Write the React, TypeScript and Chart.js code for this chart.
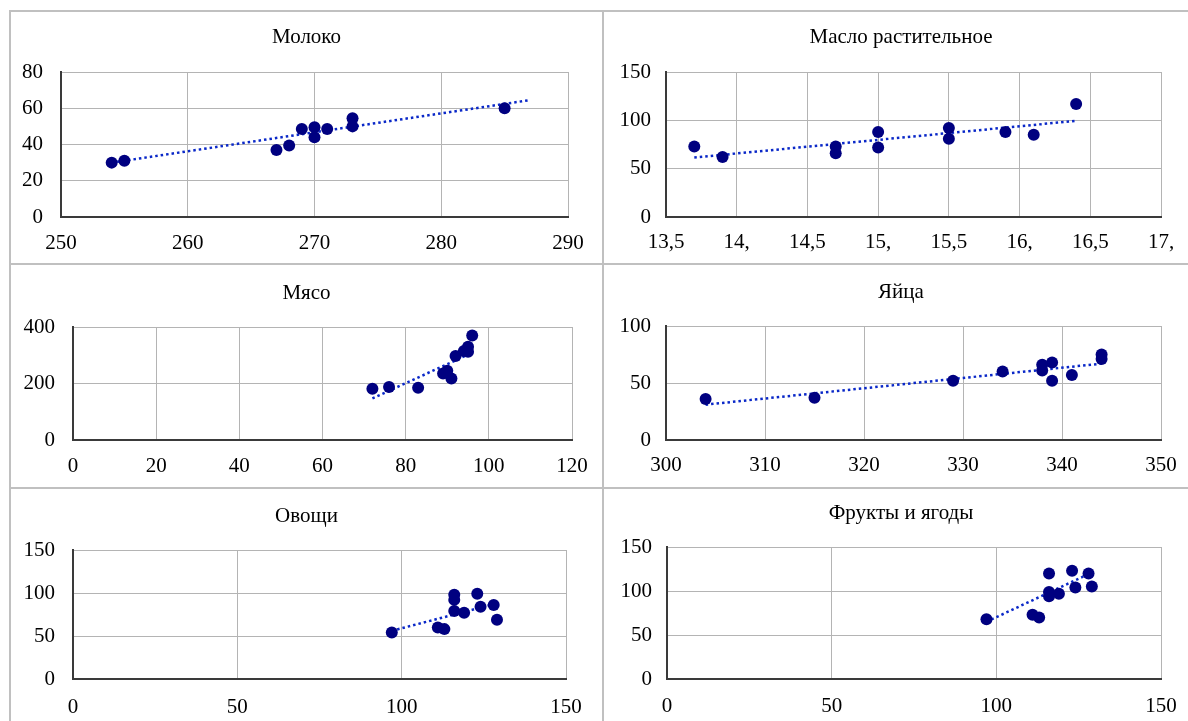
import React, { useEffect, useRef } from 'react';
import { Chart, registerables } from 'chart.js';

Chart.register(...registerables);

const FONT = "'Liberation Serif', 'Times New Roman', serif";
const POINT_COLOR = '#000080';
const TREND_COLOR = '#0a28c8';
const GRID_COLOR = '#b4b4b4';
const AXIS_COLOR = '#3a3a3a';
const PANEL_LINE = '#c0c0c0';

// ---- Молоко ----
const milkTitle = 'Молоко';
const milkX = [254, 255, 267, 268, 269, 270, 270, 271, 273, 273, 285];
const milkY = [30, 31, 37, 39.5, 48.5, 49.5, 44, 48.5, 54.5, 50, 60];
const milkTrendX = [254, 287];
const milkTrendY = [30, 64.5];
const milkXTicks = ['250', '260', '270', '280', '290'];
const milkYTicks = ['0', '20', '40', '60', '80'];

// ---- Масло растительное ----
const oilTitle = 'Масло растительное';
const oilX = [13.7, 13.9, 14.7, 14.7, 15, 15, 15.5, 15.5, 15.9, 16.1, 16.4];
const oilY = [73, 62, 73, 66, 88, 72, 92, 81, 88, 85, 117];
const oilTrendX = [13.7, 16.4];
const oilTrendY = [61.5, 99.5];
const oilXTicks = ['13,5', '14,', '14,5', '15,', '15,5', '16,', '16,5', '17,'];
const oilYTicks = ['0', '50', '100', '150'];

// ---- Мясо ----
const meatTitle = 'Мясо';
const meatX = [72, 76, 83, 89, 90, 91, 92, 94, 95, 95, 96];
const meatY = [181, 188, 185, 235, 245, 218, 297, 315, 330, 312, 370];
const meatTrendX = [72, 96];
const meatTrendY = [147, 309];
const meatXTicks = ['0', '20', '40', '60', '80', '100', '120'];
const meatYTicks = ['0', '200', '400'];

// ---- Яйца ----
const eggTitle = 'Яйца';
const eggX = [304, 315, 329, 334, 338, 338, 339, 339, 341, 344, 344];
const eggY = [36, 37, 52, 60, 66, 61, 68, 52, 57, 75, 71];
const eggTrendX = [304, 344];
const eggTrendY = [31, 67];
const eggXTicks = ['300', '310', '320', '330', '340', '350'];
const eggYTicks = ['0', '50', '100'];

// ---- Овощи ----
const vegTitle = 'Овощи';
const vegX = [97, 111, 113, 116, 116, 116, 119, 123, 124, 128, 129];
const vegY = [54, 60, 58, 98, 92, 79, 77, 99, 84, 86, 69];
const vegTrendX = [97, 129];
const vegTrendY = [56, 88];
const vegXTicks = ['0', '50', '100', '150'];
const vegYTicks = ['0', '50', '100', '150'];

// ---- Фрукты и ягоды ----
const fruitTitle = 'Фрукты и ягоды';
const fruitX = [97, 111, 113, 116, 116, 116, 119, 123, 124, 128, 129];
const fruitY = [68, 73, 70, 120, 99, 94, 97, 123, 104, 120, 105];
const fruitTrendX = [97, 129];
const fruitTrendY = [65, 121];
const fruitXTicks = ['0', '50', '100', '150'];
const fruitYTicks = ['0', '50', '100', '150'];

type Spec = {
  title: string;
  x: number[];
  y: number[];
  tx: number[];
  ty: number[];
  xTicks: string[];
  yTicks: string[];
  xMin: number; xMax: number; xStep: number;
  yMin: number; yMax: number; yStep: number;
  box: { x: number; y: number; w: number; h: number };
  plot: { l: number; r: number; t: number; b: number };
  titleY: number;
  xLabY: number;
  yPad: number;
};

const COL1 = { x: 11, w: 591 };
const COL2 = { x: 604, w: 594 };
const ROW1 = { y: 12, h: 251 };
const ROW2 = { y: 265, h: 222 };
const ROW3 = { y: 489, h: 232 };

const specs: Spec[] = [
  {
    title: milkTitle, x: milkX, y: milkY, tx: milkTrendX, ty: milkTrendY,
    xTicks: milkXTicks, yTicks: milkYTicks,
    xMin: 250, xMax: 290, xStep: 10, yMin: 0, yMax: 80, yStep: 20,
    box: { x: COL1.x, w: COL1.w, y: ROW1.y, h: ROW1.h },
    plot: { l: 61, r: 568, t: 72, b: 217 }, titleY: 37.5, xLabY: 243, yPad: 18,
  },
  {
    title: oilTitle, x: oilX, y: oilY, tx: oilTrendX, ty: oilTrendY,
    xTicks: oilXTicks, yTicks: oilYTicks,
    xMin: 13.5, xMax: 17, xStep: 0.5, yMin: 0, yMax: 150, yStep: 50,
    box: { x: COL2.x, w: COL2.w, y: ROW1.y, h: ROW1.h },
    plot: { l: 666, r: 1161, t: 72, b: 217 }, titleY: 37.5, xLabY: 242.5, yPad: 15,
  },
  {
    title: meatTitle, x: meatX, y: meatY, tx: meatTrendX, ty: meatTrendY,
    xTicks: meatXTicks, yTicks: meatYTicks,
    xMin: 0, xMax: 120, xStep: 20, yMin: 0, yMax: 400, yStep: 200,
    box: { x: COL1.x, w: COL1.w, y: ROW2.y, h: ROW2.h },
    plot: { l: 73, r: 572, t: 327, b: 440 }, titleY: 293.7, xLabY: 466.5, yPad: 18,
  },
  {
    title: eggTitle, x: eggX, y: eggY, tx: eggTrendX, ty: eggTrendY,
    xTicks: eggXTicks, yTicks: eggYTicks,
    xMin: 300, xMax: 350, xStep: 10, yMin: 0, yMax: 100, yStep: 50,
    box: { x: COL2.x, w: COL2.w, y: ROW2.y, h: ROW2.h },
    plot: { l: 666, r: 1161, t: 326, b: 440 }, titleY: 292, xLabY: 465, yPad: 15,
  },
  {
    title: vegTitle, x: vegX, y: vegY, tx: vegTrendX, ty: vegTrendY,
    xTicks: vegXTicks, yTicks: vegYTicks,
    xMin: 0, xMax: 150, xStep: 50, yMin: 0, yMax: 150, yStep: 50,
    box: { x: COL1.x, w: COL1.w, y: ROW3.y, h: ROW3.h },
    plot: { l: 73, r: 566, t: 550, b: 679 }, titleY: 516.3, xLabY: 707.5, yPad: 18,
  },
  {
    title: fruitTitle, x: fruitX, y: fruitY, tx: fruitTrendX, ty: fruitTrendY,
    xTicks: fruitXTicks, yTicks: fruitYTicks,
    xMin: 0, xMax: 150, xStep: 50, yMin: 0, yMax: 150, yStep: 50,
    box: { x: COL2.x, w: COL2.w, y: ROW3.y, h: ROW3.h },
    plot: { l: 667, r: 1161, t: 547, b: 679 }, titleY: 513, xLabY: 706.5, yPad: 15,
  },
];

const TITLE_SIZE = 21;
const TICK_SIZE = 21;

function Panel({ spec }: { spec: Spec }) {
  const ref = useRef<HTMLCanvasElement>(null);
  useEffect(() => {
    const s = spec;
    const box = s.box;
    const titleLH = TITLE_SIZE * 1.2;
    const tickLH = TICK_SIZE * 1.2;
    const padTop = s.titleY - box.y - titleLH / 2;
    const padBottom = s.plot.t - s.titleY - titleLH / 2;
    const rightSpace = box.x + box.w - s.plot.r;
    const yWidth = s.plot.l - box.x;
    const chart = new Chart(ref.current as HTMLCanvasElement, {
      type: 'scatter',
      data: {
        datasets: [
          {
            data: s.x.map((v, i) => ({ x: v, y: s.y[i] })),
            backgroundColor: POINT_COLOR,
            borderColor: POINT_COLOR,
            pointRadius: 6,
            pointBorderWidth: 0,
            order: 0,
          },
          {
            data: s.tx.map((v, i) => ({ x: v, y: s.ty[i] })),
            showLine: true,
            borderColor: TREND_COLOR,
            backgroundColor: TREND_COLOR,
            borderWidth: 2.5,
            borderDash: [2.5, 3],
            pointRadius: 0,
            fill: false,
            order: 1,
          } as any,
        ],
      },
      options: {
        responsive: false,
        maintainAspectRatio: false,
        animation: false,
        events: [],
        layout: {
          padding: { left: 0, top: 0, right: 0, bottom: 0 },
        },
        plugins: {
          legend: { display: false },
          tooltip: { enabled: false },
          title: {
            display: true,
            text: s.title,
            color: '#000000',
            font: { family: FONT, size: TITLE_SIZE, weight: 'normal' as any, lineHeight: 1.2 },
            padding: { top: padTop, bottom: padBottom },
          },
        },
        scales: {
          x: {
            type: 'linear',
            min: s.xMin,
            max: s.xMax,
            ticks: {
              stepSize: s.xStep,
              autoSkip: false,
              maxRotation: 0,
              color: '#000000',
              font: { family: FONT, size: TICK_SIZE, lineHeight: 1.2 },
              padding: s.xLabY - s.plot.b - tickLH / 2,
              callback: (_v: any, i: number) => s.xTicks[i],
            },
            grid: { color: GRID_COLOR, lineWidth: 1, drawTicks: false },
            border: { color: AXIS_COLOR, width: 2 },
            afterFit: (sc: any) => {
              sc.height = box.y + box.h - s.plot.b;
            },
          },
          y: {
            type: 'linear',
            min: s.yMin,
            max: s.yMax,
            ticks: {
              stepSize: s.yStep,
              autoSkip: false,
              color: '#000000',
              font: { family: FONT, size: TICK_SIZE, lineHeight: 1.2 },
              padding: s.yPad,
              callback: (_v: any, i: number) => s.yTicks[i],
            },
            grid: { color: GRID_COLOR, lineWidth: 1, drawTicks: false },
            border: { color: AXIS_COLOR, width: 2 },
            afterFit: (sc: any) => {
              sc.width = yWidth;
            },
          },
          // empty spacer on the right so the full-width title stays centred in the panel
          spacer: {
            type: 'linear',
            position: 'right',
            display: true,
            min: 0,
            max: 1,
            ticks: { display: false },
            grid: { display: false, drawTicks: false },
            border: { display: false },
            afterFit: (sc: any) => {
              sc.width = rightSpace;
            },
          },
        },
      } as any,
    });
    return () => chart.destroy();
  }, [spec]);
  return (
    <canvas
      ref={ref}
      width={spec.box.w}
      height={spec.box.h}
      style={{
        position: 'absolute',
        left: spec.box.x,
        top: spec.box.y,
        width: spec.box.w,
        height: spec.box.h,
      }}
    />
  );
}

function Line({ left, top, width, height }: { left: number; top: number; width: number; height: number }) {
  return (
    <div style={{ position: 'absolute', left, top, width, height, background: PANEL_LINE }} />
  );
}

export default function App() {
  return (
    <div
      style={{
        position: 'fixed',
        left: 0,
        top: 0,
        width: 1188,
        height: 721,
        overflow: 'hidden',
        background: '#ffffff',
      }}
    >
      {specs.map((s, i) => (
        <Panel key={i} spec={s} />
      ))}
      <Line left={9} top={10} width={1200} height={2} />
      <Line left={9} top={10} width={2} height={720} />
      <Line left={602} top={10} width={2} height={720} />
      <Line left={9} top={263} width={1200} height={2} />
      <Line left={9} top={487} width={1200} height={2} />
    </div>
  );
}
